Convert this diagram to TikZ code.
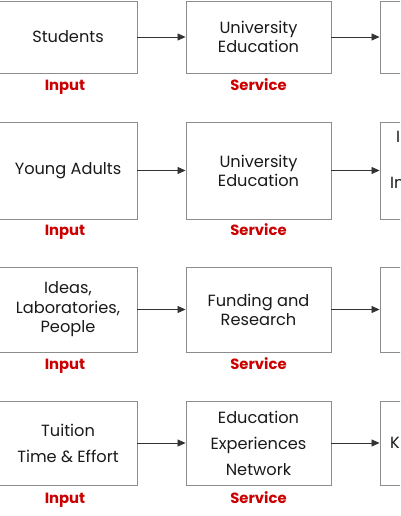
\documentclass[tikz,border=0pt]{standalone}
\usepackage{fontspec}
\setmainfont{Poppins}
\usetikzlibrary{arrows.meta}
\begin{document}
\begin{tikzpicture}[x=1pt,y=-1pt,
  box/.style={draw=black!45, line width=0.9pt, rectangle, align=center, inner sep=2pt,
     font=\fontsize{16.2}{19}\selectfont, text=black!90},
  lbl/.style={text=red!80!black, anchor=base, inner sep=0pt, font=\fontsize{14.8}{16}\bfseries\selectfont},
  conn/.style={draw=black!80, line width=0.8pt, -{Triangle[length=8pt,width=7pt]}},
  part/.style={font=\fontsize{16.2}{19}\selectfont, text=black!90, inner sep=0pt, anchor=west}]
\useasboundingbox (0,0) rectangle (400,516);
\clip (0,0) rectangle (400,516);
% Row 1
\node[box, minimum width=138pt, minimum height=72pt] (a1) at (68,37) {Students};
\node[box, minimum width=145pt, minimum height=72pt] (b1) at (258.5,37) {University\\Education};
\node[box, minimum width=145pt, minimum height=72pt] (c1) at (452.5,37) {};
\node[lbl] (ia1) at (65,91) {Input};
\node[lbl] (sb1) at (258.5,91) {Service};
\draw[conn] (a1) -- (b1);
\draw[conn] (b1) -- (c1);
% Row 2
\node[box, minimum width=138pt, minimum height=97pt] (a2) at (68,170.5) {Young Adults};
\node[box, minimum width=145pt, minimum height=97pt] (b2) at (258.5,170.5) {University\\Education};
\node[box, minimum width=145pt, minimum height=97pt] (c2) at (452.5,170.5) {};
\node[part] (c2t1) at (396,137) {I};
\node[part] (c2t2) at (390,183) {In};
\node[lbl] (ia2) at (65,235.7) {Input};
\node[lbl] (sb2) at (258.5,235.7) {Service};
\draw[conn] (a2) -- (b2);
\draw[conn] (b2) -- (c2);
% Row 3
\node[box, minimum width=138pt, minimum height=85pt, font=\fontsize{16.2}{19.5}\selectfont] (a3) at (68,309.5) {Ideas,\\Laboratories,\\People};
\node[box, minimum width=145pt, minimum height=85pt] (b3) at (258.5,309.5) {Funding and\\Research};
\node[box, minimum width=145pt, minimum height=85pt] (c3) at (452.5,309.5) {};
\node[lbl] (ia3) at (65,369.3) {Input};
\node[lbl] (sb3) at (258.5,369.3) {Service};
\draw[conn] (a3) -- (b3);
\draw[conn] (b3) -- (c3);
% Row 4
\node[box, minimum width=138pt, minimum height=84pt, font=\fontsize{16.2}{26}\selectfont] (a4) at (68,443) {Tuition\\Time \& Effort};
\node[box, minimum width=145pt, minimum height=84pt, font=\fontsize{16.2}{26}\selectfont] (b4) at (258.5,443) {Education\\Experiences\\Network};
\node[box, minimum width=145pt, minimum height=84pt] (c4) at (452.5,443) {};
\node[part] (c4t1) at (390,443) {K};
\node[lbl] (ia4) at (65,503.3) {Input};
\node[lbl] (sb4) at (258.5,503.3) {Service};
\draw[conn] (a4) -- (b4);
\draw[conn] (b4) -- (c4);
\end{tikzpicture}
\end{document}
